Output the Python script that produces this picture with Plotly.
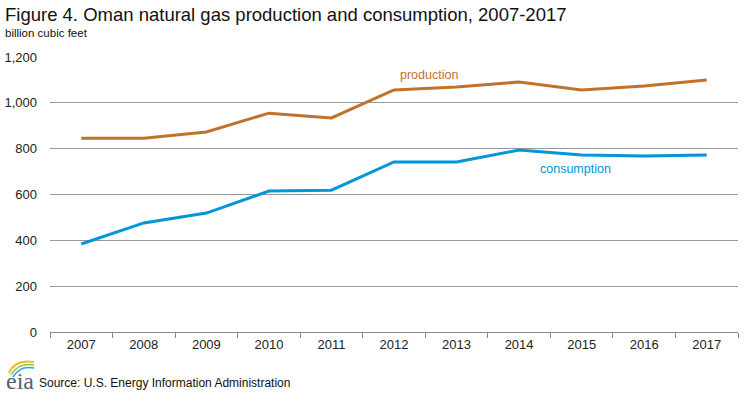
import plotly.graph_objects as go

years = ["2007", "2008", "2009", "2010", "2011", "2012", "2013", "2014", "2015", "2016", "2017"]
production = [846, 846, 873, 955, 934, 1056, 1069, 1091, 1056, 1073, 1100]
consumption = [384, 476, 519, 615, 619, 742, 742, 794, 772, 768, 772]
y_ticks = [0, 200, 400, 600, 800, 1000, 1200]
y_tick_text = ["0", "200", "400", "600", "800", "1,000", "1,200"]

PROD_COLOR = "#C0722A"
CONS_COLOR = "#0096D7"
FONT = "Liberation Sans, Arial, sans-serif"

L, T, W, H = 50, 57, 688, 275


def px(x):
    return (x - L) / W


def py(y):
    return (T + H - y) / H


fig = go.Figure()
fig.add_trace(go.Scatter(x=years, y=production, mode="lines", name="production",
                         line=dict(color=PROD_COLOR, width=3)))
fig.add_trace(go.Scatter(x=years, y=consumption, mode="lines", name="consumption",
                         line=dict(color=CONS_COLOR, width=3)))

fig.update_layout(
    width=748, height=398,
    margin=dict(l=L, r=748 - L - W, t=T, b=398 - T - H, autoexpand=False),
    paper_bgcolor="white", plot_bgcolor="white",
    showlegend=False,
    font=dict(family=FONT, color="#222", size=12),
    xaxis=dict(type="category", range=[-0.5, len(years) - 0.5], tickson="boundaries",
               ticks="outside", ticklen=5, tickangle=0,
               tickcolor="#888", showline=True, linecolor="#888", linewidth=1,
               showgrid=False, tickfont=dict(size=13, color="#222"), automargin=False),
    yaxis=dict(range=[0, 1200], tickvals=y_ticks, ticktext=y_tick_text,
               showgrid=True, gridcolor="#999", gridwidth=1, zeroline=False,
               showline=False, ticks="", ticklabelstandoff=12, automargin=False,
               tickfont=dict(size=13, color="#222")),
)

fig.add_annotation(text="Figure 4. Oman natural gas production and consumption, 2007-2017",
                   xref="paper", yref="paper", x=px(3), y=py(15), xanchor="left", yanchor="middle",
                   showarrow=False, font=dict(size=18.5, color="#111", family=FONT))
fig.add_annotation(text="billion cubic feet",
                   xref="paper", yref="paper", x=px(3), y=py(33), xanchor="left", yanchor="middle",
                   showarrow=False, font=dict(size=11.5, color="#111", family=FONT))
fig.add_annotation(text="production", x=px(429), y=py(75), xref="paper", yref="paper",
                   xanchor="center", yanchor="middle",
                   showarrow=False, font=dict(size=12.5, color=PROD_COLOR, family=FONT))
fig.add_annotation(text="consumption", x=px(575), y=py(169), xref="paper", yref="paper",
                   xanchor="center", yanchor="middle",
                   showarrow=False, font=dict(size=12.5, color=CONS_COLOR, family=FONT))
fig.add_annotation(text="Source: U.S. Energy Information Administration",
                   xref="paper", yref="paper", x=px(37), y=py(383), xanchor="left", yanchor="middle",
                   showarrow=False, font=dict(size=12, color="#111", family=FONT))
# eia logo
fig.add_annotation(text="eia", xref="paper", yref="paper", x=px(20), y=py(381),
                   xanchor="center", yanchor="middle", showarrow=False,
                   font=dict(size=24, color="#4f6272", family="Liberation Serif, serif"))
for (x0, y0, cx, cy, x1, y1, col, w) in [
    (9, 373, 15, 359, 34, 362, "#F2B92B", 2),
    (11, 375, 18, 362, 34, 365, "#8BC53F", 1.5),
    (13, 377, 20, 365, 34, 368, "#2AA6DF", 1.5),
]:
    fig.add_shape(type="path", xref="paper", yref="paper",
                  path="M %f %f Q %f %f %f %f" % (px(x0), py(y0), px(cx), py(cy), px(x1), py(y1)),
                  line=dict(color=col, width=w))

fig.write_html("out.html", config={"displayModeBar": False},
               post_script="document.body.style.margin='0';document.body.style.padding='0';")
